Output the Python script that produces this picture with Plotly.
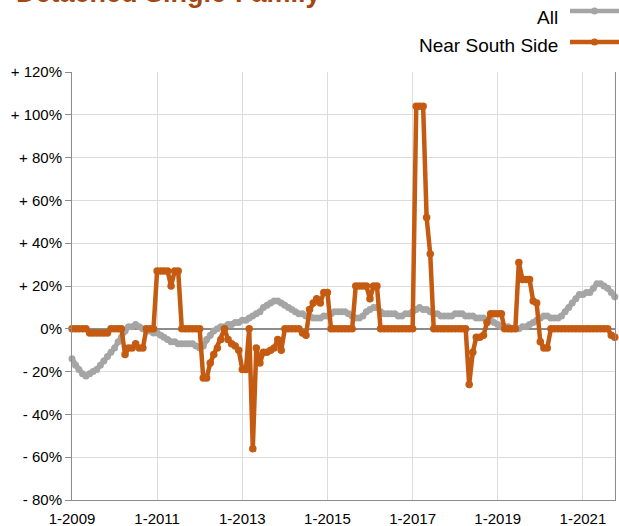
import pandas as pd
import plotly.graph_objects as go

# ---- data (monthly, starting Jan 2009) ----
all_vals = [
    -14, -17, -19, -21, -22, -21, -20, -19, -17, -15,
    -13, -11, -9, -6, -4, -1, 1, 1, 2, 1,
    0, -1, -1, -2, -2, -3, -4, -5, -6, -6,
    -7, -7, -7, -7, -7, -8, -9, -8, -5, -3,
    -1, 0, 1, 1, 2, 2, 3, 3, 4, 4,
    5, 6, 7, 8, 10, 11, 12, 13, 13, 12,
    11, 10, 9, 8, 7, 7, 6, 6, 5, 5,
    5, 6, 6, 7, 8, 8, 8, 8, 7, 6,
    5, 5, 6, 8, 9, 10, 10, 8, 7, 7,
    7, 7, 6, 6, 7, 7, 8, 9, 10, 9,
    9, 8, 7, 7, 6, 6, 6, 6, 7, 7,
    7, 6, 6, 6, 5, 5, 5, 4, 4, 3,
    2, 1, 1, 1, 0, 0, 0, 1, 1, 2,
    3, 4, 5, 6, 6, 5, 5, 5, 6, 8,
    10, 12, 14, 16, 16, 17, 17, 19, 21, 21,
    20, 19, 17, 15, 13,
]

near_south_side_vals = [
    0, 0, 0, 0, 0, -2, -2, -2, -2, -2,
    -2, 0, 0, 0, 0, -12, -9, -9, -7, -9,
    -9, 0, 0, 0, 27, 27, 27, 27, 20, 27,
    27, 0, 0, 0, 0, 0, 0, -23, -23, -16,
    -12, -9, -5, 0, -5, -7, -8, -10, -19, -19,
    0, -56, -9, -16, -11, -11, -10, -9, -5, -10,
    0, 0, 0, 0, 0, -2, -3, 9, 12, 14,
    12, 17, 17, 0, 0, 0, 0, 0, 0, 0,
    20, 20, 20, 20, 14, 20, 20, 0, 0, 0,
    0, 0, 0, 0, 0, 0, 0, 104, 104, 104,
    52, 35, 0, 0, 0, 0, 0, 0, 0, 0,
    0, 0, -26, -11, -4, -4, -3, 3, 7, 7,
    7, 7, 0, 0, 0, 0, 31, 23, 23, 23,
    13, 12, -6, -9, -9, 0, 0, 0, 0, 0,
    0, 0, 0, 0, 0, 0, 0, 0, 0, 0,
    0, 0, -3, -4, -5,
]

series_names = ["All", "Near South Side"]
x_tick_dates = ["2009-01-01", "2011-01-01", "2013-01-01", "2015-01-01",
                "2017-01-01", "2019-01-01", "2021-01-01"]
x_tick_labels = ["1-2009", "1-2011", "1-2013", "1-2015", "1-2017", "1-2019", "1-2021"]
y_tick_vals = [-80, -60, -40, -20, 0, 20, 40, 60, 80, 100, 120]
y_tick_labels = ["- 80%", "- 60%", "- 40%", "- 20%", "0%", "+ 20%", "+ 40%",
                 "+ 60%", "+ 80%", "+ 100%", "+ 120%"]
title_text = "Detached Single-Family"

dates = pd.date_range("2009-01-01", periods=len(all_vals), freq="MS")

GRAY = "#A5A5A5"
ORANGE = "#C55A11"
FONT = "Liberation Sans, Arial, Helvetica, sans-serif"

fig = go.Figure()
fig.add_trace(go.Scatter(
    x=dates, y=all_vals, name=series_names[0], mode="lines+markers",
    line=dict(color=GRAY, width=5), marker=dict(color=GRAY, size=7),
    cliponaxis=False, showlegend=False,
))
fig.add_trace(go.Scatter(
    x=dates, y=near_south_side_vals, name=series_names[1], mode="lines+markers",
    line=dict(color=ORANGE, width=4.5), marker=dict(color=ORANGE, size=7.5),
    cliponaxis=False, showlegend=False,
))

fig.update_layout(
    width=619, height=526,
    margin=dict(l=72, r=4, t=72, b=26),
    paper_bgcolor="white", plot_bgcolor="white",
    font=dict(family=FONT, size=15, color="#000000"),
    xaxis=dict(
        type="date", range=["2009-01-01", "2021-10-03"],
        tickvals=x_tick_dates, ticktext=x_tick_labels,
        showgrid=True, gridcolor="#DCDCDC", gridwidth=1,
        showline=True, linecolor="#8C8C8C", linewidth=1,
        ticks="", ticklabelstandoff=5, zeroline=False, automargin=False,
    ),
    yaxis=dict(
        range=[-80, 120], tickvals=y_tick_vals, ticktext=y_tick_labels,
        showgrid=True, gridcolor="#DCDCDC", gridwidth=1,
        showline=True, linecolor="#8C8C8C", linewidth=1, mirror=True,
        ticks="outside", ticklen=6, tickcolor="#8C8C8C",
        zeroline=True, zerolinecolor="#8C8C8C", zerolinewidth=1.5,
        automargin=False,
    ),
)

# title (partly cut at the top, as in the reference)
fig.add_annotation(
    text="<b>" + title_text + "</b>", xref="paper", yref="paper", x=0, y=1,
    xanchor="left", yanchor="middle", xshift=-58, yshift=79, showarrow=False,
    font=dict(family=FONT, size=27, color="#A5470F"),
)

# custom legend: text to the left, line symbol to the right
legend_rows = [(series_names[0], GRAY, 55, 61), (series_names[1], ORANGE, 27, 30)]
for name, col, text_shift, line_shift in legend_rows:
    fig.add_annotation(
        text=name, xref="paper", yref="paper", x=1, y=1, xanchor="right",
        yanchor="middle", xshift=-55, yshift=text_shift, showarrow=False,
        font=dict(family=FONT, size=19, color="#000000"),
    )
    fig.add_shape(
        type="line", xref="paper", yref="paper", xsizemode="pixel", ysizemode="pixel",
        xanchor=1, yanchor=1, x0=-45, x1=6, y0=line_shift, y1=line_shift,
        line=dict(color=col, width=4.5),
    )
    fig.add_shape(
        type="circle", xref="paper", yref="paper", xsizemode="pixel", ysizemode="pixel",
        xanchor=1, yanchor=1, x0=-24, x1=-17, y0=line_shift - 3.5, y1=line_shift + 3.5,
        line=dict(color=col, width=0), fillcolor=col,
    )

fig.write_html(
    "out.html",
    config={"displayModeBar": False},
    post_script="document.body.style.margin='0';document.body.style.overflow='hidden';",
)
